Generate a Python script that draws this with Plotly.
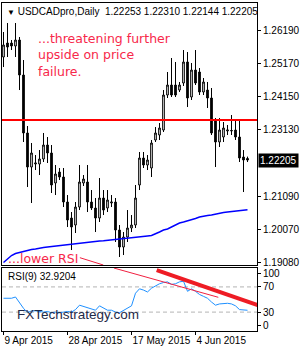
import plotly.graph_objects as go
import pandas as pd

# ---------------- data ----------------
days = pd.date_range("2015-04-09", "2015-06-19", freq="D")
dates = [d.strftime("%Y-%m-%d") for d in days if d.weekday() != 5]  # broker shows Sunday bars

open_ = [1.25363, 1.25792, 1.25792, 1.25700, 1.25884, 1.24811, 1.23034, 1.21991, 1.22083, 1.22083,
         1.22237, 1.22666, 1.22421, 1.21501, 1.21838, 1.21685, 1.20919, 1.20428, 1.20214, 1.20765,
         1.21501, 1.21532, 1.20919, 1.20735, 1.20428, 1.21041, 1.20735, 1.20888, 1.20919, 1.20060,
         1.19539, 1.19846, 1.20122, 1.20214, 1.21440, 1.22267, 1.22053, 1.21961, 1.22819, 1.22972,
         1.23125, 1.24198, 1.24505, 1.24505, 1.24351, 1.24566, 1.25210, 1.24137, 1.24964, 1.24903,
         1.24290, 1.24351, 1.24106, 1.23432, 1.22758, 1.22911, 1.23095, 1.23095, 1.23125, 1.22911,
         1.22298, 1.22253]
high = [1.26129, 1.26405, 1.25884, 1.26405, 1.25976, 1.25271, 1.23248, 1.22727, 1.22359, 1.22512,
        1.23034, 1.22911, 1.22666, 1.22053, 1.21961, 1.21961, 1.21133, 1.20612, 1.20919, 1.22053,
        1.21746, 1.22053, 1.21286, 1.21041, 1.21654, 1.21286, 1.21286, 1.21133, 1.21041, 1.20214,
        1.19999, 1.20673, 1.20520, 1.21440, 1.22451, 1.22451, 1.22359, 1.22819, 1.23217, 1.23340,
        1.24351, 1.24903, 1.25332, 1.25210, 1.24597, 1.25577, 1.25516, 1.25179, 1.25577, 1.25026,
        1.24719, 1.24597, 1.24413, 1.23493, 1.23493, 1.23371, 1.23279, 1.23585, 1.23432, 1.23432,
        1.22512, 1.22310]
low = [1.25056, 1.25363, 1.25577, 1.25363, 1.24351, 1.22758, 1.21378, 1.20888, 1.21899, 1.21746,
       1.22145, 1.22114, 1.21195, 1.21133, 1.21593, 1.20765, 1.20152, 1.19447, 1.19969, 1.20673,
       1.21409, 1.20612, 1.20673, 1.19999, 1.20306, 1.20520, 1.20612, 1.20765, 1.19693, 1.19233,
       1.19294, 1.19693, 1.19999, 1.20122, 1.21286, 1.21961, 1.21899, 1.21685, 1.22758, 1.22819,
       1.23064, 1.24106, 1.24137, 1.24137, 1.24290, 1.24474, 1.23830, 1.24045, 1.24505, 1.24198,
       1.24198, 1.23800, 1.22972, 1.21991, 1.22604, 1.22758, 1.22972, 1.22972, 1.22819, 1.22145,
       1.21225, 1.22144]
close = [1.25731, 1.25669, 1.25700, 1.25884, 1.24811, 1.23034, 1.21991, 1.22421, 1.22114, 1.22237,
         1.22666, 1.22421, 1.21440, 1.21777, 1.21685, 1.20919, 1.20367, 1.20152, 1.20765, 1.21532,
         1.21624, 1.20919, 1.20735, 1.20428, 1.21041, 1.20673, 1.20980, 1.20919, 1.20060, 1.19539,
         1.19846, 1.20122, 1.20214, 1.21041, 1.22267, 1.22053, 1.22206, 1.22727, 1.23034, 1.23187,
         1.24198, 1.24505, 1.24198, 1.24198, 1.24505, 1.25210, 1.24106, 1.24964, 1.24566, 1.24290,
         1.24597, 1.24106, 1.23034, 1.22758, 1.23125, 1.23187, 1.23125, 1.23110, 1.22911, 1.22267,
         1.22206, 1.22205]
ma = [1.19064, 1.19187, 1.19279, 1.19340, 1.19371, 1.19417, 1.19447, 1.19463, 1.19478, 1.19509,
      1.19524, 1.19539, 1.19555, 1.19570, 1.19585, 1.19601, 1.19616, 1.19631, 1.19647, 1.19662,
      1.19677, 1.19693, 1.19702, 1.19714, 1.19723, 1.19733, 1.19745, 1.19754, 1.19763, 1.19775,
      1.19785, 1.19800, 1.19815, 1.19831, 1.19846, 1.19861, 1.19877, 1.19892, 1.19938, 1.19999,
      1.20060, 1.20091, 1.20152, 1.20214, 1.20275, 1.20306, 1.20336, 1.20367, 1.20413, 1.20459,
      1.20490, 1.20505, 1.20520, 1.20551, 1.20582, 1.20597, 1.20612, 1.20628, 1.20643, 1.20658,
      1.20673, 1.20683]
rsi = [52, 52, 52, 54, 44, 36, 29, 32, 32, 31,
       30, 31, 29, 30, 29, 30, 31, 30, 34, 41,
       39, 37, 34, 33, 40, 36, 33, 33, 30, 29,
       33, 36, 40, 60, 67, 65, 62, 68, 72, 75,
       77, 78, 74, 75, 78, 79, 63, 67, 63, 58,
       55, 52, 46, 41, 43, 44, 44, 43, 40, 34,
       33, 32.9204]

resistance = 1.2343
last_price = 1.22205
price_tick_vals = [1.26190, 1.25170, 1.24150, 1.23130, 1.21090, 1.20070, 1.19080]
price_tick_text = ["1.26190", "1.25170", "1.24150", "1.23130", "1.21090", "1.20070", "1.19080"]
date_tick_vals = ["2015-04-09", "2015-04-28", "2015-05-17", "2015-06-04"]
date_tick_text = ["9 Apr 2015", "28 Apr 2015", "17 May 2015", "4 Jun 2015"]
rsi_levels = [70, 30]
rsi_tick_vals = [91, 70, 30, 8.5]
rsi_tick_text = ["100", "70", "30", "0"]

# hand-drawn trend lines (bar index, value)
thin_main_x, thin_main_y = [19.1, 24.95], [1.19212, 1.18988]
thin_rsi_x, thin_rsi_y = [27.6, 53.7], [100, 53.5]
thick_rsi_x, thick_rsi_y = [38.3, 63.6], [96.8, 41.0]

FONT = "Liberation Sans, Arial, sans-serif"
NOTE_FONT = "DejaVu Sans, sans-serif"
RED_TXT = "#f7284a"

fig = go.Figure()
fig.add_trace(go.Candlestick(
    x=dates, open=open_, high=high, low=low, close=close,
    increasing=dict(line=dict(color="black", width=1), fillcolor="white"),
    decreasing=dict(line=dict(color="black", width=1), fillcolor="black"),
    whiskerwidth=0, xaxis="x", yaxis="y", showlegend=False, hoverinfo="skip"))
fig.add_trace(go.Scatter(x=dates, y=ma, mode="lines", line=dict(color="#0000ff", width=1.5),
                         xaxis="x", yaxis="y", showlegend=False, hoverinfo="skip"))
fig.add_trace(go.Scatter(x=dates, y=rsi, mode="lines", line=dict(color="#1e90ff", width=1),
                         xaxis="x2", yaxis="y2", showlegend=False, hoverinfo="skip"))

shapes = [
    dict(type="line", xref="x domain", yref="y", x0=0, x1=1, y0=resistance, y1=resistance,
         line=dict(color="#ff0000", width=2)),
    dict(type="line", xref="x", yref="y", x0=thin_main_x[0], x1=thin_main_x[1],
         y0=thin_main_y[0], y1=thin_main_y[1], line=dict(color="#f02040", width=1)),
    dict(type="line", xref="x2", yref="y2", x0=thin_rsi_x[0], x1=thin_rsi_x[1],
         y0=thin_rsi_y[0], y1=thin_rsi_y[1], line=dict(color="#f02040", width=1)),
    dict(type="line", xref="x2", yref="y2", x0=thick_rsi_x[0], x1=thick_rsi_x[1],
         y0=thick_rsi_y[0], y1=thick_rsi_y[1], line=dict(color="#ee1c24", width=4)),
]
for lv in rsi_levels:
    shapes.append(dict(type="line", xref="x2 domain", yref="y2", x0=0, x1=1, y0=lv, y1=lv,
                       line=dict(color="#b4b4b4", width=1, dash="4px,3px"), layer="below"))

annotations = [
    dict(xref="paper", yref="paper", x=0.012, y=0.975, xanchor="left", yanchor="middle",
         showarrow=False, font=dict(family=FONT, size=10, color="black"),
         text="<span style='font-size:8px'>▼</span> USDCADpro,Daily  1.22253 1.22310 1.22144 1.22205"),
    dict(xref="paper", yref="paper", x=0.132, y=0.840, xanchor="left", yanchor="middle",
         align="left", showarrow=False, font=dict(family=NOTE_FONT, size=12.5, color=RED_TXT),
         text="...threatening further<br>upside on price<br>failure."),
    dict(xref="paper", yref="paper", x=0.014, y=0.222, xanchor="left", yanchor="middle",
         showarrow=False, font=dict(family=NOTE_FONT, size=12.5, color=RED_TXT),
         text="...lower RSI"),
    dict(xref="paper", yref="paper", x=0.014, y=0.165, xanchor="left", yanchor="middle",
         showarrow=False, font=dict(family=FONT, size=10, color="black"),
         text="RSI(9) 32.9204"),
    dict(xref="paper", yref="paper", x=0.050, y=0.050, xanchor="left", yanchor="middle",
         showarrow=False, font=dict(family=FONT, size=13.5, color="#1f2a48"),
         text="FXTechstrategy.com"),
    dict(xref="paper", yref="y", x=1.0, y=last_price, xanchor="left", yanchor="middle",
         xshift=1, showarrow=False, bgcolor="black", borderpad=1,
         font=dict(family=FONT, size=10, color="white"), text=f"{last_price:.5f}"),
]

axis_common = dict(showline=True, linecolor="black", linewidth=1, mirror=True,
                   showgrid=False, zeroline=False, fixedrange=True, automargin=False)

fig.update_layout(
    width=300, height=350,
    margin=dict(l=2, r=43, t=3, b=19, autoexpand=False),
    paper_bgcolor="white", plot_bgcolor="white",
    font=dict(family=FONT, size=10, color="black"),
    boxgap=0.4,
    shapes=shapes, annotations=annotations, showlegend=False,
    xaxis=dict(domain=[0, 1], anchor="y", type="category", range=[-0.375, 63.375],
               showticklabels=False, ticks="", rangeslider=dict(visible=False), **axis_common),
    yaxis=dict(domain=[0.2012, 1], anchor="x", side="right", range=[1.18988, 1.27018],
               tickvals=price_tick_vals, ticktext=price_tick_text, ticks="outside",
               ticklen=3, tickcolor="black", tickfont=dict(size=10), **axis_common),
    xaxis2=dict(domain=[0, 1], anchor="y2", type="category", range=[-0.375, 63.375],
                tickvals=date_tick_vals, ticktext=date_tick_text, ticks="outside", ticklen=3,
                tickcolor="black", ticklabelposition="outside right", tickangle=0,
                tickfont=dict(size=10), **axis_common),
    yaxis2=dict(domain=[0, 0.192], anchor="x2", side="right", range=[0, 100],
                tickvals=rsi_tick_vals, ticktext=rsi_tick_text, ticks="outside", ticklen=3,
                tickcolor="black", tickfont=dict(size=10), **axis_common),
)

fig.write_html("out.html", config={"displayModeBar": False, "staticPlot": True})
